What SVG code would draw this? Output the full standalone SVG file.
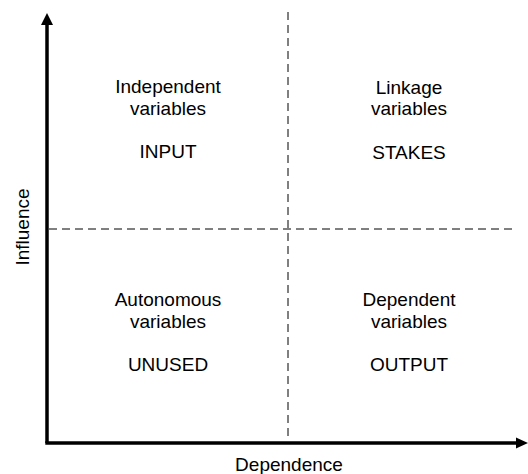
<svg xmlns="http://www.w3.org/2000/svg" width="528" height="474" viewBox="0 0 528 474">
<style>
text{font-family:"Liberation Sans",Arial,sans-serif;font-size:19px;fill:#000;text-anchor:middle}
.dash{stroke:#000;stroke-width:1;stroke-dasharray:8,5;fill:none}
.axis{stroke:#000;stroke-width:3.5;fill:none}
</style>
<rect width="528" height="474" fill="#fff"/>
<g id="connectors">
<line class="dash" x1="288" y1="12" x2="288" y2="441"/>
<line class="dash" x1="49" y1="229" x2="516" y2="229"/>
<line class="axis" x1="47" y1="443" x2="47" y2="24"/>
<polygon points="47,13 41,25 53,25" fill="#000"/>
<line class="axis" x1="45.3" y1="443" x2="517" y2="443"/>
<polygon points="528,443 516,437.5 516,448.5" fill="#000"/>
</g>
<g id="input">
<text x="168" y="93">Independent</text>
<text x="168" y="115">variables</text>
<text x="168" y="158">INPUT</text>
</g>
<g id="stakes">
<text x="409" y="94">Linkage</text>
<text x="409" y="115">variables</text>
<text x="409" y="159">STAKES</text>
</g>
<g id="unused">
<text x="168" y="306">Autonomous</text>
<text x="168" y="328">variables</text>
<text x="168" y="371">UNUSED</text>
</g>
<g id="output">
<text x="409" y="306">Dependent</text>
<text x="409" y="328">variables</text>
<text x="409" y="371">OUTPUT</text>
</g>
<g id="labels">
<text x="289" y="471">Dependence</text>
<text transform="translate(29,227) rotate(-90)">Influence</text>
</g>
</svg>
